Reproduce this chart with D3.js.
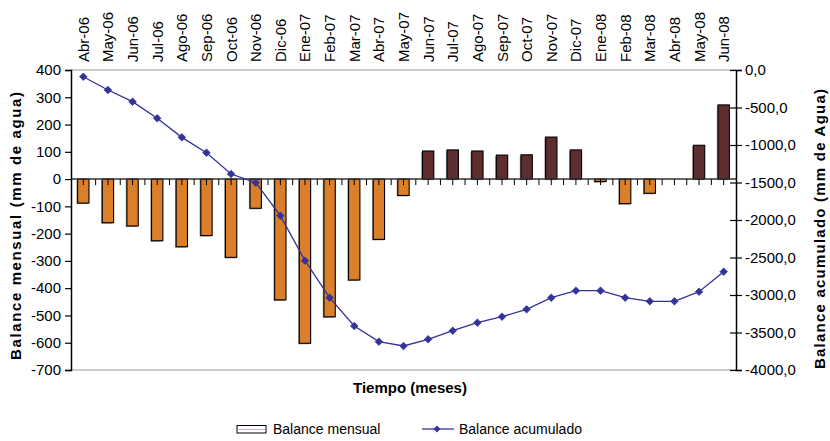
<!DOCTYPE html>
<html><head><meta charset="utf-8">
<script src="https://cdn.jsdelivr.net/npm/d3@7"></script>
<style>body{margin:0;background:#fff}svg{display:block}text{font-family:"Liberation Sans",Arial,sans-serif}</style>
</head><body><svg id="c" width="830" height="441"></svg>
<script>
const categories = ["Abr-06","May-06","Jun-06","Jul-06","Ago-06","Sep-06","Oct-06","Nov-06","Dic-06","Ene-07","Feb-07","Mar-07","Abr-07","May-07","Jun-07","Jul-07","Ago-07","Sep-07","Oct-07","Nov-07","Dic-07","Ene-08","Feb-08","Mar-08","Abr-08","May-08","Jun-08"];
const monthly = [-88,-160,-172,-226,-248,-207,-287,-107,-443,-602,-505,-370,-221,-60,103,107,103,88,89,154,107,-9,-90,-52,0,124,272];
const cumulative = [-90,-267,-422,-644,-898,-1102,-1387,-1502,-1942,-2542,-3036,-3413,-3622,-3680,-3591,-3476,-3369,-3289,-3191,-3036,-2942,-2942,-3036,-3084,-3084,-2956,-2689];
const leftTicks = [400,300,200,100,0,-100,-200,-300,-400,-500,-600,-700];
const rightTicks = [0,-500,-1000,-1500,-2000,-2500,-3000,-3500,-4000];

const svg = d3.select("#c");
const L = 71, R = 736, T = 70, B = 370;
const x = d3.scaleBand().domain(categories).range([L, R]).paddingInner(0).paddingOuter(0);
const yL = d3.scaleLinear().domain([-700, 400]).range([B, T]);
const yR = d3.scaleLinear().domain([-4000, 0]).range([B, T]);
const bw = x.bandwidth() * 0.46;

// top / bottom gray border lines
svg.append("line").attr("x1", L).attr("x2", R).attr("y1", T).attr("y2", T).attr("stroke", "#999").attr("stroke-width", 1.2);
svg.append("line").attr("x1", L).attr("x2", R).attr("y1", B).attr("y2", B).attr("stroke", "#999").attr("stroke-width", 1.2);

// bars with shadow
const bars = svg.append("g");
monthly.forEach((v, i) => {
  if (v === 0) return;
  const cx = x(categories[i]) + x.bandwidth() / 2;
  const y0 = yL(Math.max(v, 0)), h = Math.abs(yL(v) - yL(0));
  bars.append("rect").attr("x", cx - bw / 2 - 1.2).attr("y", y0 + 1).attr("width", bw).attr("height", h)
    .attr("fill", "#777").attr("opacity", 0.8);
  bars.append("rect").attr("x", cx - bw / 2).attr("y", y0).attr("width", bw).attr("height", h)
    .attr("fill", v < 0 ? "#DC7F2A" : "#5E2D2D").attr("stroke", "#000").attr("stroke-width", 1.1);
});

// zero line and ticks
svg.append("line").attr("x1", L).attr("x2", R).attr("y1", yL(0)).attr("y2", yL(0)).attr("stroke", "#333").attr("stroke-width", 1.5);
const tg = svg.append("g").attr("stroke", "#000").attr("stroke-width", 1);
categories.forEach((c, i) => {
  const bx = x(c), cx = bx + x.bandwidth() / 2;
  if (i > 0) tg.append("line").attr("x1", bx).attr("x2", bx).attr("y1", yL(0)).attr("y2", yL(0) + 6);
  tg.append("line").attr("x1", cx).attr("x2", cx).attr("y1", yL(0)).attr("y2", yL(0) + 6);
});

// left axis
const la = svg.append("g").attr("transform", `translate(${L},0)`)
  .call(d3.axisLeft(yL).tickValues(leftTicks).tickSize(6).tickPadding(4));
la.select(".domain").attr("stroke", "#000").attr("stroke-width", 1.5);
la.selectAll(".tick line").attr("stroke", "#000").attr("stroke-width", 1.2);
la.selectAll(".tick text").attr("font-size", 15).attr("fill", "#000").style("font-family", "Liberation Sans, Arial").text(d => String(d));

// right axis
const fmtR = d => d3.format(".1f")(d).replace(".", ",").replace("−", "-");
const ra = svg.append("g").attr("transform", `translate(${R},0)`)
  .call(d3.axisRight(yR).tickValues(rightTicks).tickSize(6).tickPadding(4).tickFormat(fmtR));
ra.select(".domain").attr("stroke", "#000").attr("stroke-width", 1.5);
ra.selectAll(".tick line").attr("stroke", "#000").attr("stroke-width", 1.2).attr("x1", -6).attr("x2", 6);
ra.selectAll(".tick text").attr("font-size", 15).attr("fill", "#000").attr("x", 9).style("font-family", "Liberation Sans, Arial");

// cumulative line
const line = d3.line().x((d, i) => x(categories[i]) + x.bandwidth() / 2).y(d => yR(d));
svg.append("path").datum(cumulative).attr("d", line).attr("fill", "none").attr("stroke", "#333399").attr("stroke-width", 1.3);
svg.append("g").selectAll("path").data(cumulative).join("path")
  .attr("d", d3.symbol(d3.symbolDiamond2, 36))
  .attr("transform", (d, i) => `translate(${x(categories[i]) + x.bandwidth() / 2},${yR(d)})`)
  .attr("fill", "#333399").attr("stroke", "#333399").attr("stroke-width", 0.8);

// category labels at top
svg.append("g").selectAll("text").data(categories).join("text")
  .attr("transform", c => `translate(${x(c) + x.bandwidth() / 2 + 5.5},62) rotate(-90)`)
  .attr("text-anchor", "start").attr("font-size", 15).attr("fill", "#000").text(c => c);

// axis titles
svg.append("text").attr("x", 410).attr("y", 393).attr("text-anchor", "middle").attr("font-size", 15).attr("font-weight", "bold").text("Tiempo (meses)");
svg.append("text").attr("transform", "translate(21,226) rotate(-90)").attr("text-anchor", "middle").attr("font-size", 15).attr("font-weight", "bold")
  .attr("textLength", 268).attr("lengthAdjust", "spacing").text("Balance mensual (mm de agua)");
svg.append("text").attr("transform", "translate(825,229) rotate(-90)").attr("text-anchor", "middle").attr("font-size", 15).attr("font-weight", "bold")
  .attr("textLength", 280).attr("lengthAdjust", "spacing").text("Balance acumulado (mm de Agua)");

// legend
const lg = svg.append("g");
lg.append("rect").attr("x", 237).attr("y", 425.5).attr("width", 29).attr("height", 7.5).attr("fill", "#fff").attr("stroke", "#000").attr("stroke-width", 1);
lg.append("line").attr("x1", 238).attr("x2", 265).attr("y1", 429.5).attr("y2", 429.5).attr("stroke", "#e8a8c0").attr("stroke-width", 1);
lg.append("text").attr("x", 273).attr("y", 434).attr("font-size", 14).text("Balance mensual");
lg.append("line").attr("x1", 422).attr("x2", 454).attr("y1", 429).attr("y2", 429).attr("stroke", "#333399").attr("stroke-width", 1.3);
lg.append("path").attr("d", d3.symbol(d3.symbolDiamond2, 30)).attr("transform", "translate(437,429)").attr("fill", "#333399");
lg.append("text").attr("x", 459).attr("y", 434).attr("font-size", 14).text("Balance acumulado");
</script></body></html>
